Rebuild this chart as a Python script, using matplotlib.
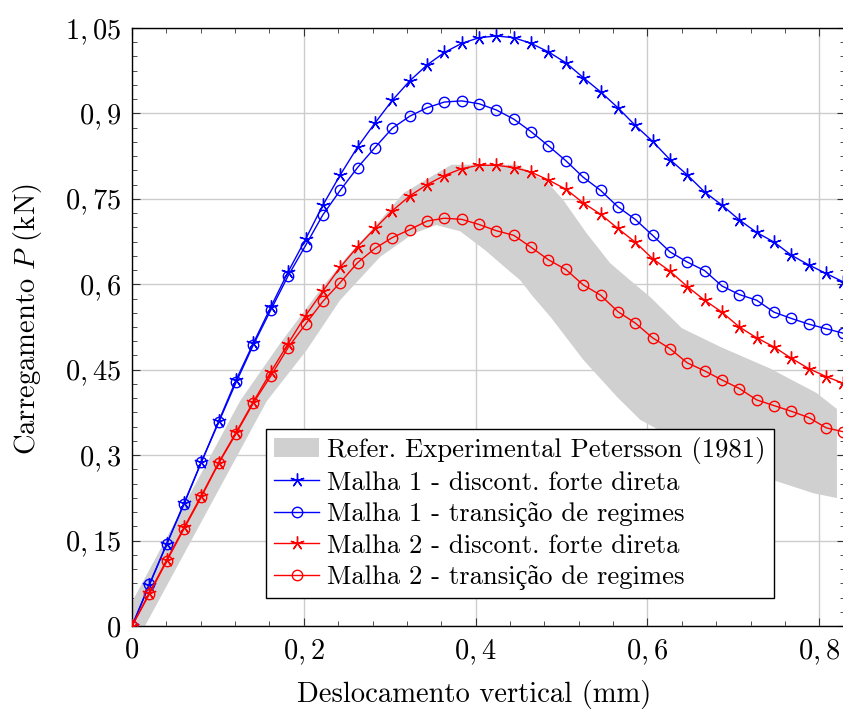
import matplotlib
matplotlib.use("Agg")
import matplotlib.pyplot as plt
from matplotlib.patches import Patch
from matplotlib.lines import Line2D
from matplotlib.ticker import FixedLocator, FixedFormatter, MultipleLocator

plt.rcParams["font.family"] = ["cmr10", "Liberation Serif"]
plt.rcParams["mathtext.fontset"] = "cm"
plt.rcParams["axes.unicode_minus"] = False

# Vertical displacement (mm) at each load step
displacement = [0.0, 0.0202, 0.0404, 0.0606, 0.0808, 0.1010, 0.1212, 0.1414,
                0.1616, 0.1818, 0.2020, 0.2222, 0.2424, 0.2626, 0.2828, 0.3030,
                0.3232, 0.3434, 0.3636, 0.3838, 0.4040, 0.4242, 0.4444, 0.4646,
                0.4848, 0.5050, 0.5252, 0.5454, 0.5656, 0.5858, 0.6060, 0.6262,
                0.6464, 0.6666, 0.6868, 0.7070, 0.7272, 0.7474, 0.7676, 0.7878,
                0.8080, 0.8282]

# Load (kN) for each mesh / formulation
malha1_direta = [0.0, 0.072, 0.144, 0.216, 0.288, 0.360, 0.432, 0.497, 0.560, 0.622,
                 0.679, 0.739, 0.792, 0.841, 0.883, 0.923, 0.957, 0.985, 1.007, 1.023,
                 1.033, 1.036, 1.033, 1.023, 1.008, 0.989, 0.963, 0.938, 0.910, 0.879,
                 0.851, 0.819, 0.792, 0.762, 0.739, 0.713, 0.691, 0.674, 0.651, 0.634,
                 0.619, 0.604]
malha1_transicao = [0.0, 0.073, 0.144, 0.214, 0.288, 0.358, 0.428, 0.494, 0.555, 0.615,
                    0.668, 0.722, 0.765, 0.805, 0.840, 0.874, 0.895, 0.910, 0.920, 0.922,
                    0.917, 0.906, 0.890, 0.868, 0.843, 0.817, 0.788, 0.765, 0.736, 0.714,
                    0.686, 0.657, 0.639, 0.624, 0.597, 0.582, 0.572, 0.551, 0.540, 0.530,
                    0.522, 0.514]
malha2_direta = [0.0, 0.058, 0.116, 0.173, 0.229, 0.287, 0.340, 0.394, 0.446, 0.496,
                 0.545, 0.588, 0.630, 0.666, 0.698, 0.729, 0.755, 0.775, 0.791, 0.803,
                 0.809, 0.809, 0.805, 0.797, 0.783, 0.767, 0.743, 0.723, 0.698, 0.674,
                 0.645, 0.623, 0.596, 0.572, 0.551, 0.525, 0.506, 0.490, 0.470, 0.452,
                 0.438, 0.426]
malha2_transicao = [0.0, 0.056, 0.114, 0.171, 0.227, 0.286, 0.338, 0.392, 0.439, 0.489,
                    0.530, 0.570, 0.603, 0.638, 0.663, 0.682, 0.696, 0.711, 0.716, 0.714,
                    0.705, 0.694, 0.686, 0.665, 0.643, 0.626, 0.599, 0.581, 0.552, 0.532,
                    0.506, 0.487, 0.462, 0.448, 0.432, 0.417, 0.397, 0.387, 0.377, 0.366,
                    0.348, 0.341]

# Experimental envelope (Petersson, 1981): upper and lower bounds
exp_upper_x = [0.0, 0.1258, 0.1724, 0.219, 0.250, 0.2894, 0.316, 0.355, 0.372, 0.448,
               0.4596, 0.483, 0.502, 0.5295, 0.5567, 0.5838, 0.603, 0.640, 0.685, 0.743,
               0.797, 0.8206]
exp_upper_y = [0.042, 0.395, 0.496, 0.590, 0.648, 0.713, 0.760, 0.795, 0.810, 0.810,
               0.800, 0.780, 0.748, 0.689, 0.637, 0.602, 0.578, 0.523, 0.490, 0.452,
               0.409, 0.381]
exp_lower_x = [0.0, 0.0151, 0.157, 0.2034, 0.2422, 0.2888, 0.3276, 0.354, 0.382, 0.411,
               0.434, 0.452, 0.467, 0.487, 0.5256, 0.5645, 0.5916, 0.6615, 0.7468, 0.7934,
               0.8206]
exp_lower_y = [0.0, 0.0, 0.395, 0.4845, 0.572, 0.648, 0.689, 0.704, 0.693, 0.660,
               0.630, 0.607, 0.578, 0.543, 0.467, 0.4025, 0.362, 0.305, 0.256, 0.233,
               0.2247]

xtick_values = [0.0, 0.2, 0.4, 0.6, 0.8]
xtick_labels = [r"$0$", r"$0,2$", r"$0,4$", r"$0,6$", r"$0,8$"]
ytick_values = [0.0, 0.15, 0.3, 0.45, 0.6, 0.75, 0.9, 1.05]
ytick_labels = [r"$0$", r"$0,15$", r"$0,3$", r"$0,45$", r"$0,6$", r"$0,75$",
                r"$0,9$", r"$1,05$"]

legend_labels = ["Refer. Experimental Petersson (1981)",
                 "Malha 1 - discont. forte direta",
                 "Malha 1 - transição de regimes",
                 "Malha 2 - discont. forte direta",
                 "Malha 2 - transição de regimes"]

fig = plt.figure(figsize=(8.43, 7.11), dpi=100)
ax = fig.add_axes([132 / 843, 85 / 711, 713 / 843, 598 / 711])

band_color = "#d0d0d0"
poly_x = exp_upper_x + exp_lower_x[::-1]
poly_y = exp_upper_y + exp_lower_y[::-1]
ax.fill(poly_x, poly_y, color=band_color, lw=0, zorder=1)

star = (5, 2, 0)
lw = 1.0
ax.plot(displacement, malha1_direta, color="#0000ff", lw=lw, marker=star,
        ms=10, mew=1.0, zorder=3)
ax.plot(displacement, malha1_transicao, color="#0000ff", lw=lw, marker="o",
        ms=7.5, mfc="none", mew=1.0, zorder=3)
ax.plot(displacement, malha2_direta, color="#ff0000", lw=lw, marker=star,
        ms=10, mew=1.0, zorder=3)
ax.plot(displacement, malha2_transicao, color="#ff0000", lw=lw, marker="o",
        ms=7.5, mfc="none", mew=1.0, zorder=3)

ax.set_xlim(0, 0.83)
ax.set_ylim(0, 1.05)

ax.xaxis.set_major_locator(FixedLocator(xtick_values))
ax.xaxis.set_major_formatter(FixedFormatter(xtick_labels))
ax.yaxis.set_major_locator(FixedLocator(ytick_values))
ax.yaxis.set_major_formatter(FixedFormatter(ytick_labels))
ax.xaxis.set_minor_locator(MultipleLocator(0.04))
ax.yaxis.set_minor_locator(MultipleLocator(0.025))

ax.grid(True, which="major", color="#cccccc", lw=1.0, zorder=0)
ax.set_axisbelow(True)
ax.tick_params(which="both", direction="in", top=True, right=True,
               labelsize=20.5, color="#333333")
ax.tick_params(which="major", length=6, width=0.8, pad=8)
ax.tick_params(which="minor", length=3.5, width=0.6)
for s in ax.spines.values():
    s.set_linewidth(1.0)

ax.set_xlabel("Deslocamento vertical (mm)", fontsize=20.6)
ax.xaxis.set_label_coords(0.480, -0.090)
ax.set_ylabel(r"Carregamento $P$ (kN)", fontsize=20.6)
ax.yaxis.set_label_coords(-0.123, 0.513)

handles = [
    Patch(facecolor=band_color, edgecolor="none"),
    Line2D([], [], color="#0000ff", lw=lw, marker=star, ms=10, mew=1.0),
    Line2D([], [], color="#0000ff", lw=lw, marker="o", ms=7.5, mfc="none", mew=1.0),
    Line2D([], [], color="#ff0000", lw=lw, marker=star, ms=10, mew=1.0),
    Line2D([], [], color="#ff0000", lw=lw, marker="o", ms=7.5, mfc="none", mew=1.0),
]
leg = ax.legend(handles, legend_labels, loc="lower right",
                bbox_to_anchor=(0.900, 0.0468), fontsize=19.2, frameon=True,
                fancybox=False, framealpha=1, edgecolor="black",
                handlelength=1.7, handletextpad=0.3, labelspacing=0.27,
                borderpad=0.3, borderaxespad=0)
leg.get_frame().set_linewidth(1.0)
leg.set_zorder(5)

fig.savefig("out.png", dpi=100)
